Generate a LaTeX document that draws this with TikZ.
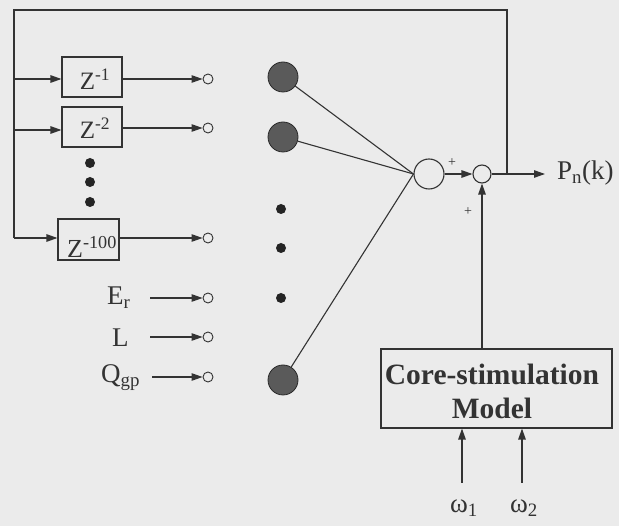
\documentclass[tikz,border=0pt]{standalone}
\usepackage{fontspec}
\setmainfont{Liberation Serif}
\usetikzlibrary{arrows.meta}
\definecolor{bg}{HTML}{EBEBEB}
\definecolor{ink}{HTML}{333333}
\definecolor{ball}{HTML}{5A5A5A}
\tikzset{
  ln/.style={draw=ink, line width=1.1pt},
  arr/.style={ln, -{Triangle[length=11pt,width=7.5pt]}},
  delaybox/.style={ln, minimum width=60pt, minimum height=40pt, inner sep=0pt},
  port/.style={circle, ln, line width=0.9pt, minimum size=10pt, inner sep=0pt},
  neuron/.style={circle, draw=ink!80!black, fill=ball, line width=0.8pt, minimum size=30pt, inner sep=0pt},
  dot/.style={circle, fill=ink!70!black, minimum size=10pt, inner sep=0pt},
  lbl/.style={text=ink, font=\fontsize{27}{30}\selectfont, inner sep=0pt},
  sml/.style={text=ink, font=\fontsize{14}{16}\selectfont, inner sep=0pt},
}
\begin{document}
\begin{tikzpicture}[x=1pt,y=-1pt]
\fill[bg] (0,0) rectangle (619,526);
\useasboundingbox (0,0) rectangle (619,526);

% delay boxes
\node[delaybox] (z1) at (92,77) {};
\node[delaybox] (z2) at (92,127) {};
\node[delaybox, minimum width=61pt, minimum height=41pt] (z3) at (88.5,239.5) {};
\node[lbl, font=\fontsize{25}{28}\selectfont] (t1) at (95,79) {Z\textsuperscript{-1}};
\node[lbl, font=\fontsize{25}{28}\selectfont] (t2) at (95,128) {Z\textsuperscript{-2}};
\node[lbl, font=\fontsize{26}{28}\selectfont, anchor=base west] (t3) at (67,258) {Z\textsuperscript{-100}};

% feedback line
\coordinate (fbA) at (507,10);
\coordinate (fbB) at (14,10);
\coordinate (fb1) at (14,79);
\coordinate (fb2) at (14,130);
\coordinate (fb3) at (14,238);
\draw[ln] (507,174) -- (fbA) -- (fbB) -- (fb3);
\draw[arr] (fb1) -- (z1.west |- fb1);
\draw[arr] (fb2) -- (z2.west |- fb2);
\draw[arr] (fb3) -- (z3.west |- fb3);

% input ports
\node[port] (p1) at (208,79) {};
\node[port] (p2) at (208,128) {};
\node[port] (p3) at (208,238) {};
\node[port] (p4) at (208,298) {};
\node[port] (p5) at (208,337) {};
\node[port] (p6) at (208,377) {};
\draw[arr] (z1.east |- p1) -- (p1);
\draw[arr] (z2.east |- p2) -- (p2);
\draw[arr] (z3.east |- p3) -- (p3);

% vertical ellipsis under Z^-2
\node[dot] (d1) at (90,163) {};
\node[dot] (d2) at (90,182) {};
\node[dot] (d3) at (90,202) {};

% other inputs
\node[lbl, anchor=base west] (er) at (107,305) {E\textsubscript{r}};
\node[lbl, anchor=base west] (ll) at (112,347) {L};
\node[lbl, anchor=base west] (qg) at (101,383) {Q\textsubscript{gp}};
\coordinate (a4) at (150,298);
\coordinate (a5) at (150,337);
\coordinate (a6) at (152,377);
\draw[arr] (a4) -- (p4);
\draw[arr] (a5) -- (p5);
\draw[arr] (a6) -- (p6);

% neurons
\node[neuron] (n1) at (283,77) {};
\node[neuron] (n2) at (283,137) {};
\node[dot] (e1) at (281,209) {};
\node[dot] (e2) at (281,248) {};
\node[dot] (e3) at (281,298) {};
\node[neuron] (n3) at (283,380) {};

% summing nodes
\node[circle, ln, minimum size=30pt, inner sep=0pt] (s1) at (429,174) {};
\node[circle, ln, minimum size=18pt, inner sep=0pt] (s2) at (482,174) {};
\draw[ln] (n1) -- (s1.west);
\draw[ln] (n2) -- (s1.west);
\draw[ln] (n3) -- (s1.west);
\draw[arr] (s1) -- (s2);
\node[sml] (plus1) at (452,163) {+};
\node[sml] (plus2) at (468,212) {+};

% output
\node[lbl, anchor=base west] (pn) at (557,180) {P\textsubscript{n}(k)};
\draw[arr] (s2) -- (545,174);

% core-stimulation model
\node[ln, minimum width=231pt, minimum height=79pt, inner sep=0pt] (core) at (496.5,388.5) {};
\node[text=ink, font=\bfseries\fontsize{29.5}{34}\selectfont, align=center] (coret) at (492,391) {Core-stimulation\\Model};
\draw[arr] (core.north -| s2) -- (s2);

\node[lbl, anchor=base] (w1) at (464,513) {ω\textsubscript{1}};
\node[lbl, anchor=base] (w2) at (524,513) {ω\textsubscript{2}};
\coordinate (w1a) at (462,483);
\coordinate (w2a) at (522,483);
\draw[arr] (w1a) -- (w1a |- core.south);
\draw[arr] (w2a) -- (w2a |- core.south);
\end{tikzpicture}
\end{document}
